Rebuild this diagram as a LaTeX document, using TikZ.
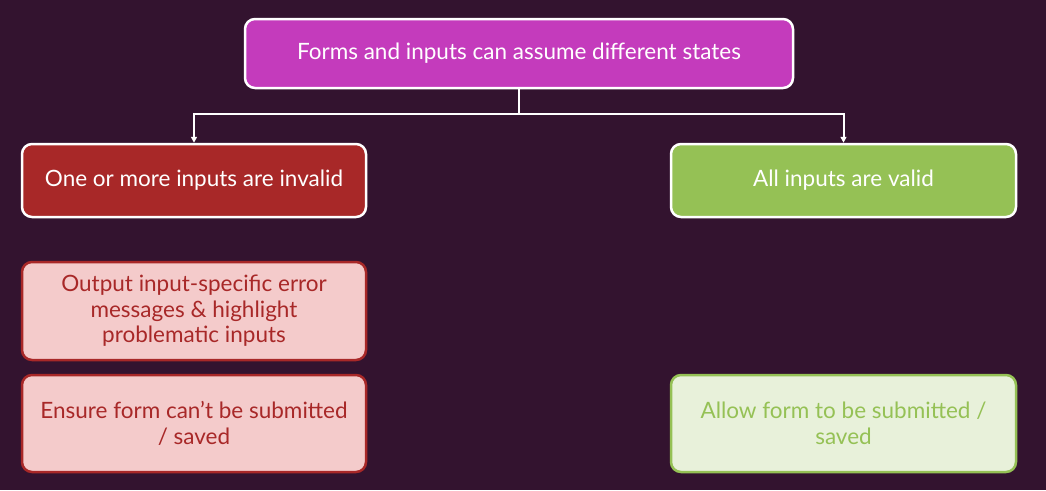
\documentclass[tikz,border=0pt]{standalone}
\usepackage{fontspec}
\setmainfont{Lato}
\usetikzlibrary{arrows.meta}
\definecolor{bg}{HTML}{33132F}
\definecolor{magbox}{HTML}{C43BBC}
\definecolor{redbox}{HTML}{A82828}
\definecolor{greenbox}{HTML}{95C155}
\definecolor{pinkfill}{HTML}{F4CBCB}
\definecolor{lgfill}{HTML}{E8F1DA}
\tikzset{
  box/.style={rounded corners=10pt, line width=2.5pt, minimum height=#1, align=center, font=\fontsize{22.5}{25.5}\selectfont, inner sep=0pt},
  box/.default=73pt,
  conn/.style={draw=white, line width=2pt},
  arr/.style={conn, -{Triangle[width=6pt,length=6pt]}},
}
\begin{document}
\begin{tikzpicture}[x=1pt,y=-1pt]
\fill[bg] (0,0) rectangle (1046,490);
\useasboundingbox (0,0) rectangle (1046,490);
\node[box=69pt, draw=white, fill=magbox, text=white, minimum width=548pt] (top) at (519,53.5) {Forms and inputs can assume different states};
\node[box, draw=white, fill=redbox, text=white, minimum width=344pt] (inv) at (194,180.5) {One or more inputs are invalid};
\node[box, draw=white, fill=greenbox, text=white, minimum width=345pt] (val) at (843.5,180.5) {All inputs are valid};
\node[box=98pt, draw=redbox, fill=pinkfill, text=redbox, minimum width=344pt] (err) at (194,311) {Output input-specific error\\messages \& highlight\\problematic inputs};
\node[box=97pt, draw=redbox, fill=pinkfill, text=redbox, minimum width=344pt] (ens) at (194,423.5) {Ensure form can’t be submitted\\/ saved};
\node[box=97pt, draw=greenbox, fill=lgfill, text=greenbox, minimum width=345pt] (allow) at (843.5,423.5) {Allow form to be submitted /\\saved};
\coordinate (mid) at (519,114);
\draw[conn] (top.south) -- (mid);
\draw[arr] (mid) -| (inv.north);
\draw[arr] (mid) -| (val.north);
\end{tikzpicture}
\end{document}
